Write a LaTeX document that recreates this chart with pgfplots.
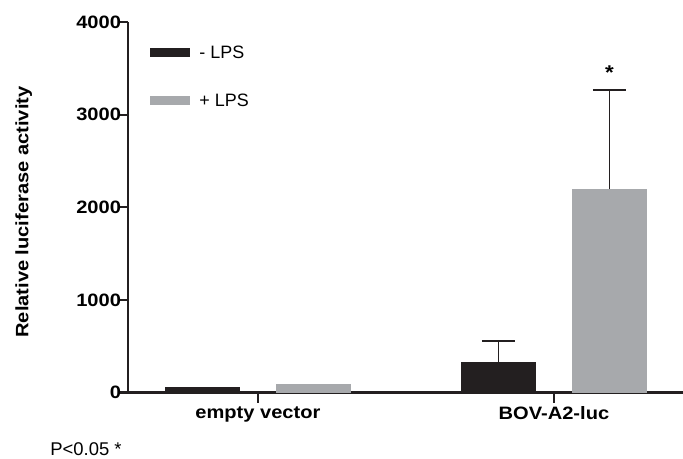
\documentclass[border=0pt]{standalone}
\usepackage{fontspec}
\setmainfont{Liberation Sans}[BoldFeatures={FakeStretch=1.12}]
\usepackage{pgfplots}
\pgfplotsset{compat=1.18}
\definecolor{barblack}{HTML}{231F20}
\definecolor{bargray}{HTML}{A7A9AC}
\newcommand{\lblfont}{\fontsize{18}{21}\selectfont}

\begin{document}
\begin{tikzpicture}
\useasboundingbox (0,0) rectangle (683bp,459bp);
\begin{axis}[
    at={(128bp,66.5bp)}, anchor=south west,
    scale only axis,
    width=555bp, height=370.5bp,
    xmin=-0.439, xmax=1.436,
    ymin=0, ymax=4000,
    axis x line*=bottom,
    axis y line*=left,
    axis line style={barblack, line width=2.2bp},
    tick style={barblack, line width=2.2bp},
    major tick length=9.5bp,
    tick align=outside,
    xtick={0,1},
    xticklabels={empty vector, BOV-A2-luc},
    ytick={0,1000,2000,3000,4000},
    /pgf/number format/1000 sep={},
    /pgf/number format/assume math mode=true,
    ticklabel style={font=\lblfont\bfseries},
    yticklabel style={xshift=6bp},
    xticklabel style={yshift=-1bp},
    ylabel={Relative luciferase activity},
    every axis y label/.style={at={(axis description cs:-0.188,0.487)}, rotate=90, anchor=center, font=\lblfont\bfseries},
    legend style={at={(axis description cs:0.04,0.942)}, anchor=north west, draw=none, fill=none,
        font=\lblfont, inner sep=0pt, row sep=30bp},
    legend cell align=left,
    legend image code/.code={\fill[#1] (0bp,-4.5bp) rectangle (40bp,4.5bp);},
    clip=false,
  ]
  % bars sit at category -/+ 0.1875 (half the spacing between the two bars)
  \addplot[ybar, bar width=75bp, fill=barblack, draw=none] coordinates {(-0.1875,60)};
  \addplot[ybar, bar width=75bp, fill=bargray, draw=none] coordinates {(0.1875,90)};
  \addplot[ybar, bar width=75bp, fill=barblack, draw=none, forget plot,
      error bars/.cd, y dir=plus, y explicit, error mark=|,
      error bar style={barblack, line width=1.5bp},
      error mark options={barblack, line width=1.5bp, mark size=16.5bp}]
      coordinates {(0.8125,329) +- (0,227)};
  \addplot[ybar, bar width=75bp, fill=bargray, draw=none, forget plot,
      error bars/.cd, y dir=plus, y explicit, error mark=|,
      error bar style={barblack, line width=1.5bp},
      error mark options={barblack, line width=1.5bp, mark size=16.5bp}]
      coordinates {(1.1875,2197) +- (0,1070)};
  \legend{\hspace{7bp}- LPS, \hspace{7bp}+ LPS}
  % category tick marks under the x axis
  \draw[barblack, line width=2.2bp] (axis cs:0,0) -- ++(0bp,-10bp);
  \draw[barblack, line width=2.2bp] (axis cs:1,0) -- ++(0bp,-10bp);
  \node[font=\fontsize{20}{20}\selectfont\bfseries] at (axis cs:1.1875,3450) {*};
\end{axis}
\node[font=\fontsize{18.5}{20}\selectfont] at (86bp,10bp) {P<0.05 *};
\end{tikzpicture}
\end{document}
